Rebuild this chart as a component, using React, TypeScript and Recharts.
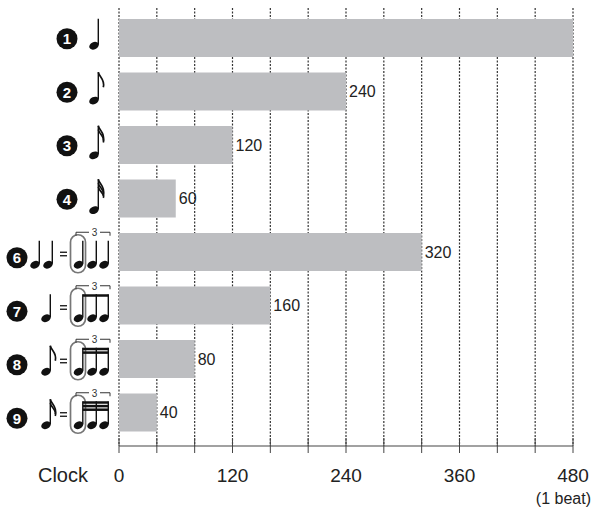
import React from "react";
import { BarChart, Bar, XAxis, YAxis, CartesianGrid, LabelList } from "recharts";

// rows of the table (circled number shown on the left)
const rowIds = ["1", "2", "3", "4", "6", "7", "8", "9"];
const clocks = [480, 240, 120, 60, 320, 160, 80, 40];
// flags on the lead note of each row
const noteFlags = [0, 1, 2, 3, 0, 0, 1, 2];
// how many lead notes are drawn before "="
const leadNotes = [1, 1, 1, 1, 2, 1, 1, 1];
// beams on the triplet group (-1 = no triplet)
const tripletBeams = [-1, -1, -1, -1, 0, 1, 2, 3];

const xTicks = [0, 40, 80, 120, 160, 200, 240, 280, 320, 360, 400, 440, 480];
const xLabels = [0, 120, 240, 360, 480];
const xMax = 480;

const data = rowIds.map((id, i) => ({ id, value: clocks[i] }));

const FONT = "'Liberation Sans', Arial, Helvetica, sans-serif";
const INK = "#111";

const Note = ({ hx, hy, top, flags = 0 }: any) => {
  const sx = hx + 4.3;
  return (
    <g>
      <ellipse cx={hx} cy={hy} rx={5} ry={3.6} transform={`rotate(-25 ${hx} ${hy})`} fill={INK} />
      <line x1={sx} y1={hy - 1} x2={sx} y2={top} stroke={INK} strokeWidth={1.4} />
      {Array.from({ length: flags }).map((_, k) => {
        const t = top + k * 3.8;
        return (
          <path
            key={k}
            d={`M${sx} ${t} C${sx + 1} ${t + 5} ${sx + 7} ${t + 7} ${sx + 5} ${t + 15 - k * 2}`}
            stroke={INK}
            strokeWidth={1.7}
            fill="none"
          />
        );
      })}
    </g>
  );
};

const Circled = ({ cx, cy, n }: any) => (
  <g>
    <circle cx={cx} cy={cy} r={10.5} fill={INK} />
    <text x={cx} y={cy + 5.5} textAnchor="middle" fontSize={15} fontWeight="bold" fill="#fff" fontFamily={FONT}>
      {n}
    </text>
  </g>
);

const RowTick = ({ x, y, payload }: any) => {
  const i = rowIds.indexOf(String(payload.value));
  if (i < 0) return null;
  const beams = tripletBeams[i];
  if (beams < 0) {
    const f = noteFlags[i];
    return (
      <g>
        <Circled cx={x - 52} cy={y + 1} n={rowIds[i]} />
        <Note hx={x - 25} hy={y + 8 + f * 1.3} top={y - 19} flags={f} />
      </g>
    );
  }
  // triplet rows
  const hy = y + 13;
  const top = y - 11;
  const leads = leadNotes[i] === 2 ? [x - 84, x - 71] : [x - 73];
  const tx = [x - 40.5, x - 27, x - 15];
  return (
    <g>
      <Circled cx={x - 102} cy={y + 6} n={rowIds[i]} />
      {leads.map((hx, k) => (
        <Note key={k} hx={hx} hy={hy} top={top + (noteFlags[i] ? -2 : 0)} flags={noteFlags[i]} />
      ))}
      <line x1={x - 59} x2={x - 52} y1={y + 0.5} y2={y + 0.5} stroke={INK} strokeWidth={1.3} />
      <line x1={x - 59} x2={x - 52} y1={y + 4} y2={y + 4} stroke={INK} strokeWidth={1.3} />
      <rect x={x - 48.5} y={y - 17} width={15} height={38} rx={7.5} fill="none" stroke="#777" strokeWidth={1.7} />
      {tx.map((hx, k) => (
        <Note key={k} hx={hx} hy={hy} top={top} />
      ))}
      {Array.from({ length: beams }).map((_, k) => (
        <rect key={k} x={tx[0] + 4.3} y={top + k * 3.6} width={tx[2] - tx[0]} height={2.5} fill={INK} />
      ))}
      <path d={`M${x - 43} ${y - 16} V${y - 19.5} H${x - 30}`} stroke="#333" strokeWidth={1} fill="none" />
      <path d={`M${x - 19} ${y - 19.5} H${x - 9} V${y - 16}`} stroke="#333" strokeWidth={1} fill="none" />
      <text x={x - 24.5} y={y - 15.5} textAnchor="middle" fontSize={10} fill="#333" fontFamily={FONT}>
        3
      </text>
    </g>
  );
};

const ClockTick = ({ x, y, payload }: any) => {
  const v = payload.value;
  return (
    <g>
      <line x1={x} x2={x} y1={y - 8} y2={y + 7} stroke="#444" strokeWidth={1} />
      {xLabels.includes(v) && (
        <text x={x} y={y + 36} textAnchor="middle" fontSize={19} fill="#222" fontFamily={FONT}>
          {v}
        </text>
      )}
      {v === 0 && (
        <text x={x - 31} y={y + 36} textAnchor="end" fontSize={20} fill="#222" fontFamily={FONT}>
          Clock
        </text>
      )}
      {v === xMax && (
        <text x={x + 18} y={y + 58} textAnchor="end" fontSize={16} fill="#222" fontFamily={FONT}>
          (1 beat)
        </text>
      )}
    </g>
  );
};

export default function App() {
  return (
    <div style={{ position: "absolute", left: 0, top: 0, width: 594, height: 509, background: "#fff", fontFamily: FONT }}>
      <BarChart width={594} height={509} data={data} layout="vertical" margin={{ top: 8, right: 21, left: 0, bottom: 0 }}>
        <CartesianGrid horizontal={false} strokeDasharray="2 1.5" stroke="#333" strokeWidth={1.2} />
        <XAxis
          type="number"
          domain={[0, xMax]}
          ticks={xTicks}
          interval={0}
          height={63}
          tickSize={0}
          tickMargin={0}
          tickLine={false}
          axisLine={{ stroke: "#444", strokeWidth: 1.2 }}
          tick={<ClockTick />}
        />
        <YAxis
          type="category"
          dataKey="id"
          width={119}
          tickSize={0}
          tickMargin={0}
          axisLine={false}
          tickLine={false}
          padding={{ top: 3, bottom: 7 }}
          tick={<RowTick />}
        />
        <Bar dataKey="value" fill="#bdbec1" barSize={38} isAnimationActive={false}>
          <LabelList
            dataKey="value"
            position="right"
            offset={3}
            fontSize={16}
            fill="#222"
            fontFamily={FONT}
            formatter={(v: any) => (v >= xMax ? "" : v)}
          />
        </Bar>
      </BarChart>
    </div>
  );
}
